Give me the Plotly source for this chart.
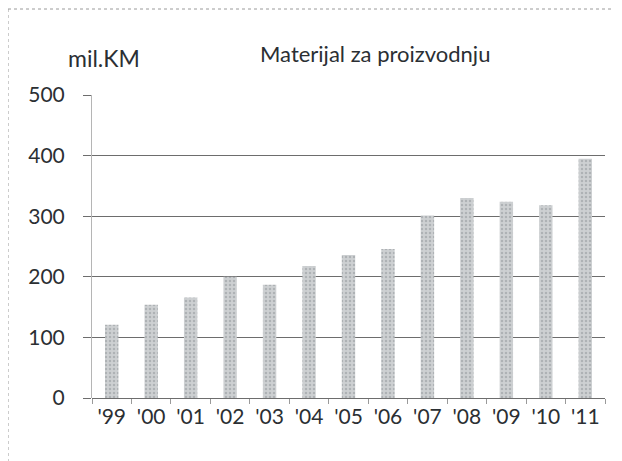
import plotly.graph_objects as go

years = ["'99", "'00", "'01", "'02", "'03", "'04", "'05", "'06", "'07", "'08", "'09", "'10", "'11"]
values = [121, 154, 166, 200, 187, 218, 236, 246, 301, 330, 324, 318, 395]
y_ticks = [0, 100, 200, 300, 400, 500]
title_text = "Materijal za proizvodnju"
unit_text = "mil.KM"

# page body has an 8px default margin: the figure starts at (8, 8) in the window
OFF = 8
W, H = 622 - OFF, 461 - OFF
L, R, T, B = 92 - OFF, 17, 95 - OFF, 63
PW, PH = W - L - R, H - T - B


def px_x(px):  # window pixel -> paper
    return (px - OFF - L) / PW


def px_y(py):
    return (H - B - (py - OFF)) / PH


FONT = "Lato"
TXT = "#2b2f33"

fig = go.Figure(go.Bar(
    x=years, y=values,
    marker=dict(color="#c4c7c9", line=dict(width=0),
                pattern=dict(shape=".", fgcolor="#8e9498", bgcolor="#cdd0d2", size=4, solidity=0.3)),
    width=0.34,
))

fig.update_layout(
    width=W, height=H,
    margin=dict(l=L, r=R, t=T, b=B),
    paper_bgcolor="white", plot_bgcolor="white",
    showlegend=False,
    font=dict(family=FONT, color=TXT),
    xaxis=dict(
        type="category",
        showgrid=False,
        tickson="boundaries",
        ticks="outside", ticklen=5, tickcolor="#9a9a9a",
        showline=False,
        tickfont=dict(size=21, family=FONT, color=TXT),
        ticklabelstandoff=4,
    ),
    yaxis=dict(
        range=[0, 500],
        tickvals=y_ticks,
        showgrid=True, gridcolor="#6d6d6d", gridwidth=1,
        zeroline=True, zerolinecolor="#6d6d6d", zerolinewidth=1,
        ticks="outside", ticklen=8, tickcolor="#6d6d6d",
        showline=True, linecolor="#b5b5b5", linewidth=1,
        tickfont=dict(size=21, family=FONT, color=TXT),
        ticklabelstandoff=14,
    ),
    annotations=[
        dict(text=title_text, xref="paper", yref="paper", x=px_x(375), y=px_y(53),
             xanchor="center", yanchor="middle", showarrow=False,
             font=dict(size=22, family=FONT, color=TXT)),
        dict(text=unit_text, xref="paper", yref="paper", x=px_x(66), y=px_y(58),
             xanchor="left", yanchor="middle", showarrow=False,
             font=dict(size=23, family=FONT, color=TXT)),
    ],
    shapes=[
        dict(type="line", xref="paper", yref="paper", x0=px_x(8), x1=px_x(622),
             y0=px_y(9), y1=px_y(9), line=dict(color="#9a9a9a", width=1, dash="dot")),
        dict(type="line", xref="paper", yref="paper", x0=px_x(8), x1=px_x(8),
             y0=px_y(9), y1=px_y(461), line=dict(color="#9a9a9a", width=1, dash="dot")),
    ],
)

fig.write_html("out.html")
